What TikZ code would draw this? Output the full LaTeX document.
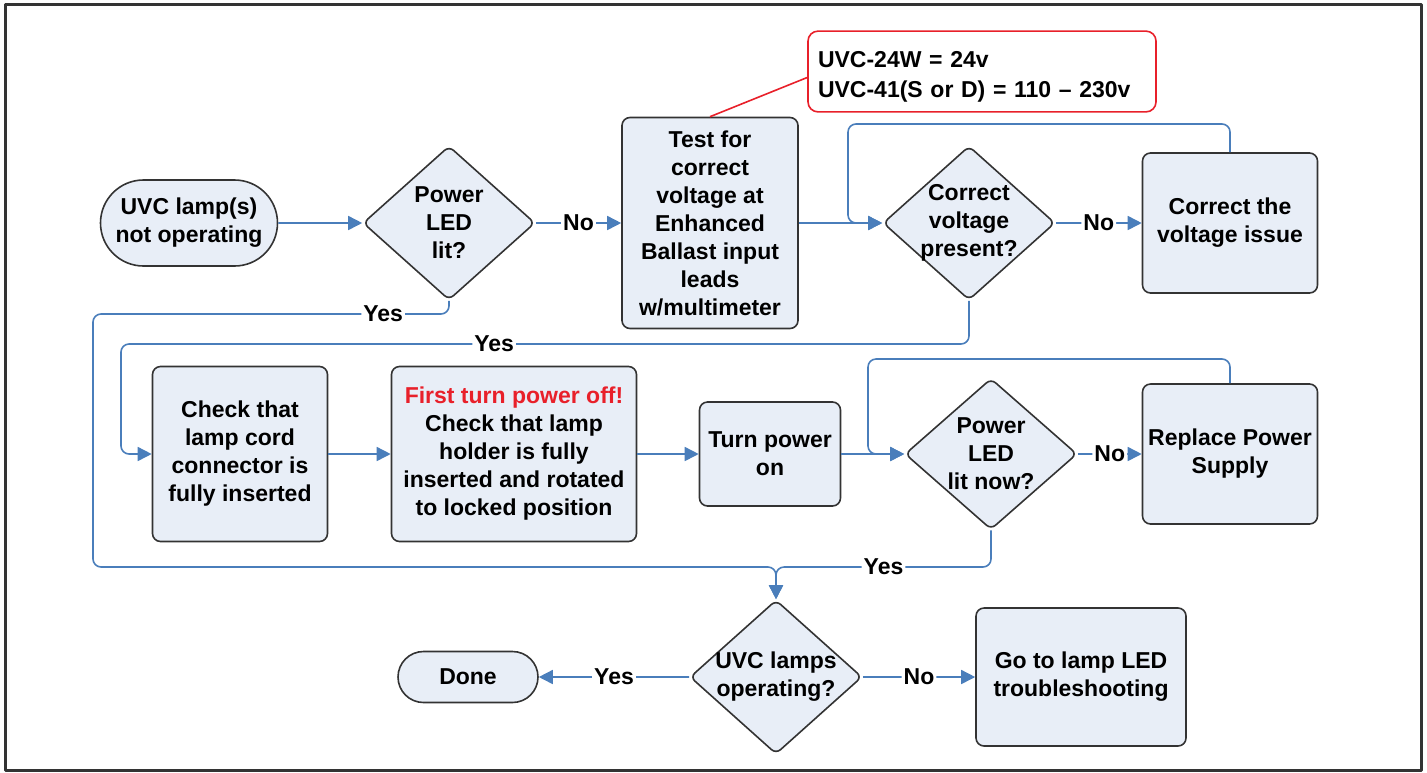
\documentclass[tikz,border=0pt]{standalone}
\usepackage{fontspec}
\setmainfont{Liberation Sans}
\usetikzlibrary{arrows.meta,shapes.geometric,shapes.misc}
\definecolor{boxfill}{HTML}{E8EEF7}
\definecolor{boxline}{HTML}{333333}
\definecolor{flowblue}{HTML}{4A7EBB}
\definecolor{notered}{HTML}{E8202A}
\begin{document}
\begin{tikzpicture}[x=0.5pt,y=-0.5pt,>={Triangle[length=7pt,width=7pt]},line join=round,
		font=\fontsize{11.5}{14}\selectfont\bfseries,
		txt/.style={align=center,inner sep=0pt},
		proc/.style={draw=boxline,fill=boxfill,line width=0.8pt,rounded corners=4pt,align=center,inner sep=2pt},
		term/.style={draw=boxline,fill=boxfill,line width=0.8pt,rounded rectangle,align=center,inner sep=0pt},
		decision/.style={draw=boxline,fill=boxfill,line width=0.8pt,diamond,rounded corners=3pt,minimum width=86pt,minimum height=77pt,inner sep=0pt},
		flow/.style={->,draw=flowblue,line width=0.8pt,rounded corners=4pt},
		lbl/.style={fill=white,inner sep=1pt}]
	\useasboundingbox (0,0) rectangle (1427,772);
	\draw[boxline,line width=1.5pt] (5,4) rectangle (1421,770);
	% first row
	\node[term,minimum width=88.5pt,minimum height=43pt] (start) at (189,223) {UVC lamp(s)\\not operating};
	\node[decision,label={[txt]center:Power\\LED\\lit?}] (d1) at (449,223) {};
	\node[proc,minimum width=88pt,minimum height=105.5pt] (test) at (710,223) {Test for\\correct\\voltage at\\Enhanced\\Ballast input\\leads\\w/multimeter};
	\node[draw=notered,line width=0.8pt,rounded corners=5pt,align=left,text width=164pt,inner sep=5pt,minimum height=38.5pt] (note) at (982,71.5) {\rule{0pt}{13pt}UVC-24W = 24v\\[1pt]UVC-41(S or D) = 110 -- 230v};
	\node[decision,label={[txt]center:Correct\\voltage\\present?}] (d2) at (969,223) {};
	\node[proc,minimum width=87.5pt,minimum height=70pt] (fix) at (1230,223) {Correct the\\voltage issue};
	% second row
	\node[proc,minimum width=87.5pt,minimum height=87.5pt] (chk1) at (240,454) {Check that\\lamp cord\\connector is\\fully inserted};
	\node[proc,minimum width=122.5pt,minimum height=87.5pt] (chk2) at (514,454) {\textcolor{notered}{First turn power off!}\\Check that lamp\\holder is fully\\inserted and rotated\\to locked position};
	\node[proc,minimum width=70.5pt,minimum height=52pt] (turn) at (770,454) {Turn power\\on};
	\node[decision,minimum height=75.5pt,label={[txt]center:Power\\LED\\lit now?}] (d3) at (991,454) {};
	\node[proc,minimum width=87.5pt,minimum height=70pt] (psu) at (1230,454) {Replace Power\\Supply};
	% last row
	\node[decision,label={[txt]center:UVC lamps\\operating?}] (d4) at (776,677) {};
	\node[term,minimum width=70pt,minimum height=25.5pt] (done) at (468,677) {Done};
	\node[proc,minimum width=105pt,minimum height=69pt] (lampled) at (1081,677) {Go to lamp LED\\troubleshooting};
	% connectors
	\draw[notered,line width=0.8pt] ([yshift=-3pt]note.west) -- (test.north);
	\draw[flow] (start) -- (d1);
	\draw[flow] (d1) -- node[lbl]{No} (test);
	\draw[flow] (test) -- (d2);
	\draw[flow] (fix.north) -- (1230,124) -- (848,124) -- (848,223) -- (d2.west);
	\draw[flow] (d2) -- node[lbl]{No} (fix);
	\draw[flow] (d2.south) -- (969,344) -- node[lbl,pos=0.56]{Yes} (121,344) -- (121,454) -- (chk1.west);
	\draw[flow] (chk1) -- (chk2);
	\draw[flow] (chk2) -- (turn);
	\draw[flow] (turn) -- (d3);
	\draw[flow] (psu.north) -- (1230,359) -- (868,359) -- (868,454) -- (d3.west);
	\draw[flow] (d3) -- node[lbl]{No} (psu);
	\draw[flow] (d1.south) -- (449,314) -- node[lbl,pos=0.185]{Yes} (93,314) -- (93,567) -- (776,567) -- (d4.north);
	\draw[flow] (d3.south) -- (991,567) -- node[lbl]{Yes} (776,567) -- (d4.north);
	\draw[flow] (d4) -- node[lbl]{Yes} (done);
	\draw[flow] (d4) -- node[lbl]{No} (lampled);
\end{tikzpicture}
\end{document}
